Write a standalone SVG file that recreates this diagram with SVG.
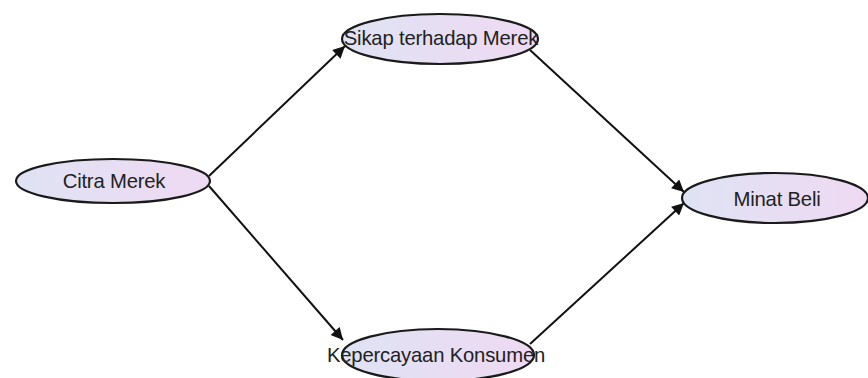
<svg xmlns="http://www.w3.org/2000/svg" width="868" height="378" viewBox="0 0 868 378">
<style>
.node ellipse{stroke:#1a1a1a;stroke-width:2.2;}
.node text{font-family:"Liberation Sans",Arial,sans-serif;font-size:20.3px;fill:#222;text-anchor:middle;dominant-baseline:central;letter-spacing:-0.2px;}
.edge{stroke:#111;stroke-width:2;fill:none;marker-end:url(#arr);}
</style>
<defs>
<linearGradient id="g" x1="0" y1="0" x2="1" y2="0">
<stop offset="0" stop-color="#dfe3f3"/>
<stop offset="1" stop-color="#efd9f3"/>
</linearGradient>
<marker id="arr" viewBox="0 0 10 10" refX="10" refY="5" markerWidth="18" markerHeight="12" markerUnits="userSpaceOnUse" orient="auto">
<path d="M0,0 L10,5 L0,10 z" fill="#111"/>
</marker>
</defs>
<rect width="868" height="378" fill="#fff"/>
<g id="edges">
<line class="edge" x1="209" y1="176" x2="345" y2="46"/>
<line class="edge" x1="209" y1="186" x2="343" y2="340"/>
<line class="edge" x1="530" y1="50" x2="684" y2="192"/>
<line class="edge" x1="530" y1="344" x2="684" y2="203"/>
</g>
<g id="citra" class="node">
<ellipse cx="113" cy="181" rx="97" ry="22" fill="url(#g)"/>
<text x="114" y="181">Citra Merek</text>
</g>
<g id="sikap" class="node">
<ellipse cx="440" cy="39" rx="98" ry="25" fill="url(#g)"/>
<text x="441" y="38">Sikap terhadap Merek</text>
</g>
<g id="minat" class="node">
<ellipse cx="775" cy="198" rx="93" ry="25" fill="url(#g)"/>
<text x="777" y="199">Minat Beli</text>
</g>
<g id="kepercayaan" class="node">
<ellipse cx="438" cy="355" rx="96" ry="26" fill="url(#g)"/>
<text x="436" y="355">Kepercayaan Konsumen</text>
</g>
</svg>
